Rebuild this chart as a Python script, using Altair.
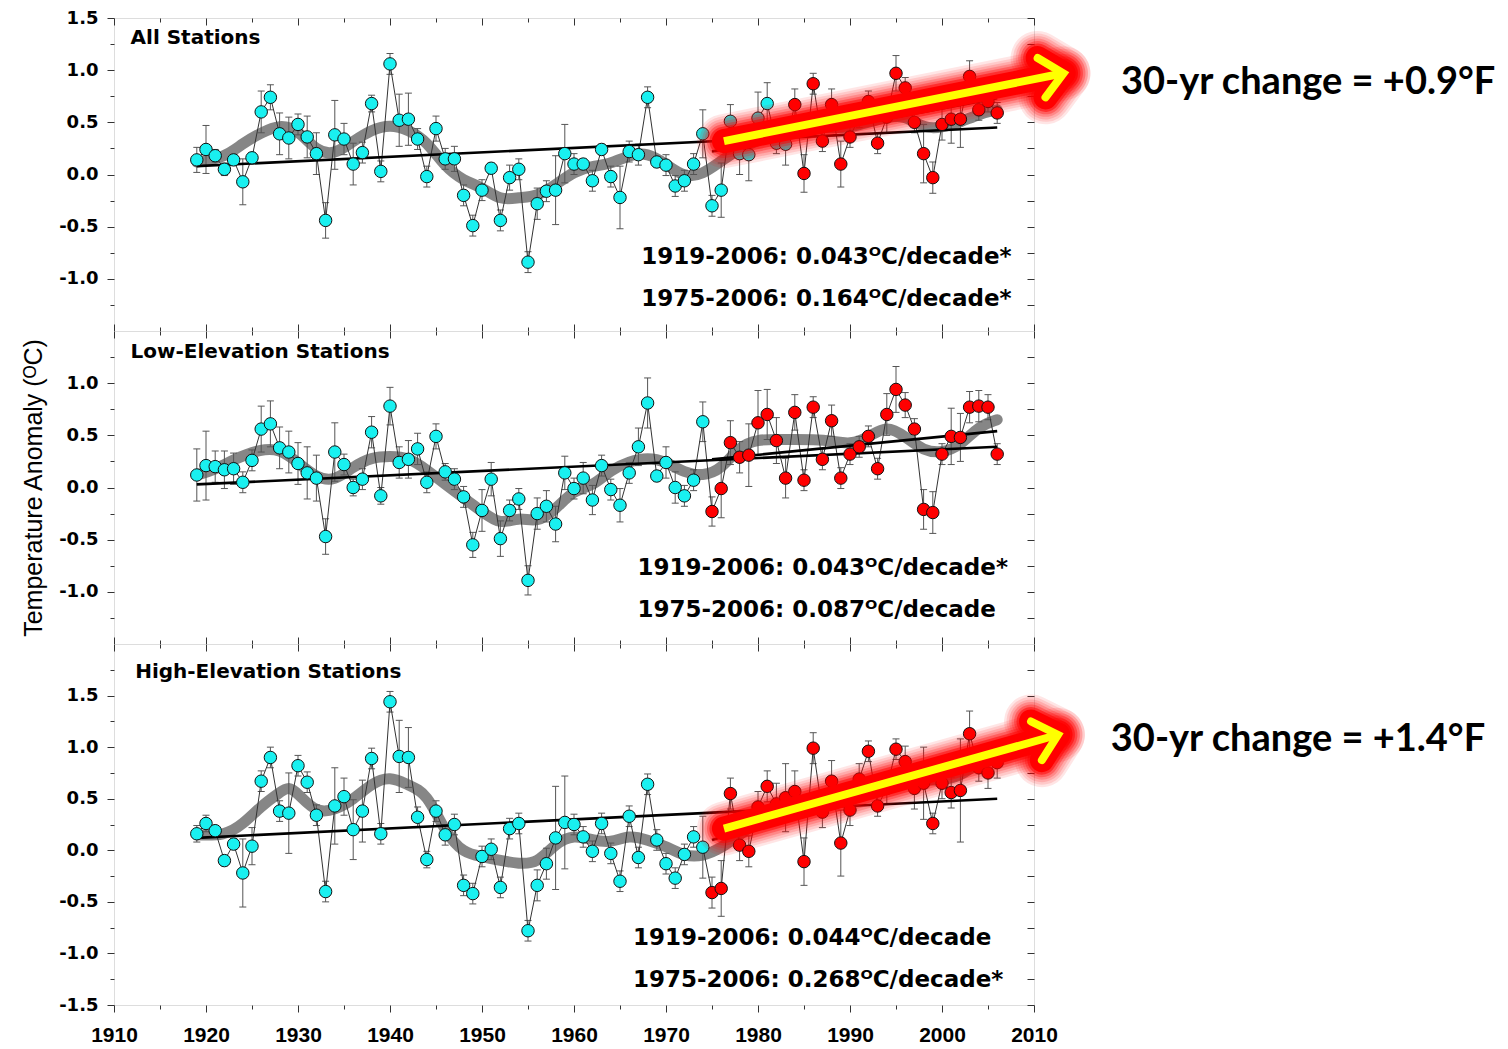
import math
import altair as alt
import pandas as pd

# ---------------- data ----------------
YEARS = list(range(1919, 2007))
X_MAJOR = list(range(1910, 2011, 10))
X_MINOR = list(range(1915, 2010, 10))

ALL_VALS = [0.14, 0.24, 0.18, 0.05, 0.14, -0.07, 0.16, 0.60, 0.74, 0.39,
            0.35, 0.48, 0.36, 0.20, -0.44, 0.38, 0.34, 0.10, 0.21, 0.68,
            0.03, 1.06, 0.52, 0.53, 0.34, -0.02, 0.44, 0.15, 0.15, -0.20,
            -0.49, -0.15, 0.06, -0.44, -0.03, 0.05, -0.84, -0.28, -0.16, -0.15,
            0.20, 0.10, 0.10, -0.06, 0.24, -0.02, -0.22, 0.22, 0.19, 0.74,
            0.12, 0.09, -0.11, -0.06, 0.10, 0.39, -0.30, -0.15, 0.51, 0.20,
            0.19, 0.54, 0.68, 0.30, 0.29, 0.67, 0.01, 0.87, 0.32, 0.67,
            0.10, 0.36, 0.55, 0.70, 0.30, 0.55, 0.97, 0.83, 0.50, 0.20,
            -0.03, 0.48, 0.53, 0.53, 0.94, 0.62, 0.70, 0.59]
ALL_ERR = [.12, .23, .06, .06, .05, .22, .05, .20, .12, .20,
           .20, .10, .20, .20, .17, .33, .15, .20, .10, .08,
           .10, .10, .25, .25, .10, .10, .12, .10, .12, .10,
           .10, .10, .05, .10, .12, .10, .10, .15, .10, .33,
           .28, .10, .05, .10, .05, .10, .30, .10, .10, .10,
           .05, .10, .10, .10, .10, .23, .10, .26, .16, .20,
           .25, .25, .20, .10, .20, .15, .18, .10, .10, .15,
           .22, .10, .10, .10, .10, .15, .17, .10, .10, .28,
           .15, .15, .23, .27, .15, .10, .10, .10]

LOW_VALS = [0.12, 0.21, 0.20, 0.17, 0.18, 0.05, 0.26, 0.56, 0.61, 0.38,
            0.34, 0.23, 0.14, 0.09, -0.47, 0.34, 0.22, 0.00, 0.08, 0.53,
            -0.08, 0.78, 0.24, 0.27, 0.37, 0.05, 0.49, 0.15, 0.08, -0.09,
            -0.55, -0.22, 0.08, -0.49, -0.22, -0.11, -0.89, -0.25, -0.18, -0.35,
            0.14, -0.01, 0.09, -0.12, 0.21, -0.02, -0.17, 0.14, 0.39, 0.81,
            0.11, 0.24, 0.00, -0.08, 0.07, 0.63, -0.23, -0.01, 0.43, 0.29,
            0.31, 0.62, 0.70, 0.45, 0.09, 0.72, 0.07, 0.77, 0.27, 0.64,
            0.09, 0.32, 0.39, 0.49, 0.18, 0.70, 0.94, 0.79, 0.56, -0.21,
            -0.24, 0.32, 0.49, 0.48, 0.77, 0.78, 0.77, 0.32]
LOW_ERR = [.25, .33, .15, .18, .15, .10, .10, .22, .22, .20,
           .20, .20, .25, .22, .17, .28, .10, .08, .10, .15,
           .08, .18, .15, .18, .15, .10, .12, .08, .10, .10,
           .12, .20, .16, .17, .10, .10, .14, .15, .15, .17,
           .16, .10, .15, .14, .10, .10, .16, .10, .18, .24,
           .05, .15, .15, .10, .10, .19, .14, .28, .21, .15,
           .30, .31, .24, .22, .19, .17, .10, .10, .10, .15,
           .10, .10, .10, .10, .10, .20, .22, .12, .10, .19,
           .20, .10, .27, .23, .15, .15, .12, .10]

HIGH_VALS = [0.16, 0.26, 0.19, -0.10, 0.06, -0.22, 0.04, 0.67, 0.90, 0.38,
             0.36, 0.82, 0.66, 0.34, -0.40, 0.43, 0.52, 0.20, 0.38, 0.89,
             0.16, 1.44, 0.91, 0.90, 0.32, -0.09, 0.38, 0.15, 0.25, -0.34,
             -0.42, -0.06, 0.01, -0.36, 0.21, 0.26, -0.78, -0.34, -0.13, 0.12,
             0.27, 0.25, 0.13, -0.01, 0.26, -0.03, -0.30, 0.33, -0.07, 0.64,
             0.10, -0.13, -0.27, -0.04, 0.13, 0.03, -0.41, -0.37, 0.55, 0.05,
             -0.01, 0.42, 0.62, 0.45, 0.51, 0.57, -0.11, 0.99, 0.37, 0.67,
             0.07, 0.39, 0.69, 0.96, 0.43, 0.60, 0.98, 0.86, 0.60, 0.65,
             0.26, 0.65, 0.56, 0.58, 1.13, 0.80, 0.75, 0.85]
HIGH_ERR = [.08, .08, .05, .05, .05, .33, .18, .10, .10, .10,
            .39, .10, .10, .10, .10, .37, .18, .29, .30, .10,
            .10, .10, .35, .29, .10, .08, .10, .10, .10, .10,
            .10, .10, .10, .10, .10, .10, .10, .15, .15, .50,
            .45, .10, .10, .10, .10, .10, .10, .10, .10, .10,
            .10, .10, .10, .10, .10, .30, .15, .27, .15, .15,
            .15, .15, .15, .20, .33, .20, .23, .15, .15, .20,
            .32, .15, .15, .10, .10, .15, .10, .15, .20, .35,
            .10, .15, .15, .50, .22, .13, .15, .15]

# smoothed curves
ALL_SM_X = [1919, 1922, 1924, 1926, 1928, 1930, 1932, 1934, 1936, 1938, 1940, 1942, 1944,
            1946, 1948, 1950, 1952, 1954, 1956, 1958, 1960, 1962, 1964, 1966, 1968, 1970,
            1972, 1974, 1976, 1978, 1980, 1982, 1984, 1986, 1988, 1990, 1992, 1994, 1996,
            1998, 2000, 2002, 2004, 2006]
ALL_SM_Y = [0.12, 0.16, 0.30, 0.40, 0.48, 0.43, 0.22, 0.19, 0.32, 0.43, 0.48, 0.43, 0.32,
            0.07, -0.06, -0.12, -0.25, -0.22, -0.21, -0.10, 0.03, 0.08, 0.10, 0.19, 0.21, 0.10,
            -0.03, 0.00, 0.13, 0.25, 0.33, 0.38, 0.42, 0.45, 0.45, 0.45, 0.50, 0.55, 0.57,
            0.44, 0.45, 0.50, 0.58, 0.62]
LOW_SM_X = [1919, 1921, 1923, 1926, 1928, 1930, 1932, 1934, 1936, 1938, 1940, 1942, 1944,
            1946, 1948, 1950, 1952, 1954, 1956, 1958, 1960, 1962, 1964, 1966, 1968, 1970,
            1972, 1974, 1976, 1978, 1980, 1982, 1984, 1986, 1988, 1990, 1992, 1994, 1996,
            1998, 2000, 2002, 2004, 2006]
LOW_SM_Y = [0.12, 0.17, 0.27, 0.37, 0.37, 0.24, 0.09, 0.06, 0.20, 0.29, 0.30, 0.29, 0.17,
            0.03, -0.10, -0.23, -0.36, -0.28, -0.34, -0.21, -0.02, 0.01, 0.17, 0.25, 0.29, 0.25,
            0.14, 0.11, 0.17, 0.40, 0.46, 0.46, 0.46, 0.46, 0.45, 0.41, 0.48, 0.60, 0.49,
            0.35, 0.33, 0.40, 0.59, 0.65]
HIGH_SM_X = [1919, 1922, 1924, 1926, 1928, 1929, 1930, 1932, 1934, 1936, 1938, 1940, 1942,
             1944, 1946, 1948, 1950, 1952, 1954, 1956, 1958, 1960, 1962, 1964, 1966, 1968,
             1970, 1972, 1974, 1976, 1978, 1980, 1982, 1984, 1986, 1988, 1990, 1992, 1994,
             1996, 1998, 2000, 2002, 2004]
HIGH_SM_Y = [0.15, 0.14, 0.25, 0.43, 0.56, 0.62, 0.55, 0.36, 0.39, 0.49, 0.65, 0.72, 0.63,
             0.56, 0.17, -0.03, -0.06, -0.10, -0.13, -0.13, 0.07, 0.15, 0.10, 0.07, 0.15, 0.10,
             0.04, -0.06, -0.06, 0.02, 0.15, 0.28, 0.40, 0.45, 0.50, 0.52, 0.55, 0.60, 0.65,
             0.70, 0.68, 0.68, 0.72, 0.85]

# linear trends: 1919-2006 and 1975-2006
TREND_YEARS = [1919, 2006, 1975, 2006]
TREND_SEG = ["long", "long", "recent", "recent"]
ALL_TREND = [0.08, 0.45, 0.22, 0.73]
LOW_TREND = [0.03, 0.39, 0.27, 0.54]
HIGH_TREND = [0.12, 0.50, 0.10, 0.93]

FIRST_RED = [1984, 1975, 1975]
PANEL_TITLES = ["All Stations", "Low-Elevation Stations", "High-Elevation Stations"]
STATS = [["1919-2006: 0.043\u1d3cC/decade*", "1975-2006: 0.164\u1d3cC/decade*"],
         ["1919-2006: 0.043\u1d3cC/decade*", "1975-2006: 0.087\u1d3cC/decade"],
         ["1919-2006: 0.044\u1d3cC/decade", "1975-2006: 0.268\u1d3cC/decade*"]]
NOTES = ["30-yr change = +0.9\u00b0F", None, "30-yr change = +1.4\u00b0F"]
Y_TITLE = "Temperature Anomaly (\u1d3cC)"

# annotation anchors, in data units (year, anomaly)
TITLE_POS = [(1911.8, 1.31), (1911.8, 1.30), (1912.3, 1.73)]
STATS_POS = [(1967.3, -0.79, -1.19), (1966.9, -0.77, -1.17), (1966.4, -0.85, -1.26)]
ARROWS = [((1976.3, 0.32), (2013.2, 0.97)), None, ((1976.3, 0.21), (2012.6, 1.12))]
NOTE_POS = [(2019.45, 0.876), None, (2018.35, 1.07)]

# ---------------- layout ----------------
W = 920
HEIGHTS = [313, 313, 361]
DOMAINS = [[-1.5, 1.5], [-1.5, 1.5], [-1.5, 2.0]]
Y_MAJOR = [[-1.0, -0.5, 0.0, 0.5, 1.0, 1.5], [-1.0, -0.5, 0.0, 0.5, 1.0],
           [-1.5, -1.0, -0.5, 0.0, 0.5, 1.0, 1.5]]
Y_MINOR = [[-1.25, -0.75, -0.25, 0.25, 0.75, 1.25], [-1.25, -0.75, -0.25, 0.25, 0.75, 1.25],
           [-1.25, -0.75, -0.25, 0.25, 0.75, 1.25, 1.75]]
LABEL_EXPR = "(datum.value < 0 ? '-' : '') + format(abs(datum.value), '.1f')"
TICK_COLOR = "#333333"
ARM_PX = 30
HALF_ANGLE = 42


def arrow_frame(start, tip, ppx, ppy):
    """Shaft and chevron head of an annotation arrow, in data units."""
    (ax0, ay0), (bx0, by0) = start, tip
    dxp, dyp = (bx0 - ax0) * ppx, (by0 - ay0) * ppy
    length = math.hypot(dxp, dyp)
    ux, uy = -dxp / length, -dyp / length
    ends = []
    for sgn in (1, -1):
        phi = math.radians(HALF_ANGLE * sgn)
        rx = ux * math.cos(phi) - uy * math.sin(phi)
        ry = ux * math.sin(phi) + uy * math.cos(phi)
        ends.append((bx0 + ARM_PX * rx / ppx, by0 + ARM_PX * ry / ppy))
    shaft = pd.DataFrame({"year": [ax0, bx0], "val": [ay0, by0], "o": [0, 1], "seg": ["s", "s"]})
    head = pd.DataFrame({"year": [ends[0][0], bx0, ends[1][0]],
                         "val": [ends[0][1], by0, ends[1][1]],
                         "o": [0, 1, 2], "seg": ["h", "h", "h"]})
    return shaft, head


def panel(idx, vals, errs, sm_x, sm_y, trend):
    h = HEIGHTS[idx]
    dom = DOMAINS[idx]
    last = idx == 2
    xsc = alt.Scale(domain=[1910, 2010], nice=False, zero=False)
    ysc = alt.Scale(domain=dom, nice=False, zero=False)

    def X(field="year", axis=None):
        return alt.X(f"{field}:Q", scale=xsc, axis=axis)

    def Y(field="val", axis=None):
        return alt.Y(f"{field}:Q", scale=ysc, axis=axis)

    tick_only = dict(domain=False, grid=False, labels=False, title=None,
                     tickColor=TICK_COLOR, tickWidth=1)
    ax_top_major = alt.Axis(orient="bottom", offset=-h, values=X_MAJOR, tickSize=7, **tick_only)
    ax_top_minor = alt.Axis(orient="bottom", offset=-h, values=X_MINOR, tickSize=4, **tick_only)
    if last:
        ax_bot_major = alt.Axis(orient="bottom", values=X_MAJOR, tickSize=7, domain=False,
                                grid=False, title=None, tickColor=TICK_COLOR, format="d",
                                labelFont="Liberation Sans Narrow, Liberation Sans",
                                labelFontSize=21, labelFontWeight="bold", labelColor="black",
                                labelPadding=12, labelFlush=False, labelOverlap=False)
        ax_bot_minor = alt.Axis(orient="bottom", values=X_MINOR, tickSize=4, **tick_only)
    else:
        ax_bot_major = alt.Axis(orient="top", offset=-h, values=X_MAJOR, tickSize=7, **tick_only)
        ax_bot_minor = alt.Axis(orient="top", offset=-h, values=X_MINOR, tickSize=4, **tick_only)

    left_kw = dict(orient="left", values=Y_MAJOR[idx], tickSize=7, domain=False, grid=False,
                   labelExpr=LABEL_EXPR, labelFont="DejaVu Sans", labelFontSize=18,
                   labelFontWeight="bold", labelColor="black", labelPadding=9,
                   labelFlush=False, labelOverlap=False, tickColor=TICK_COLOR)
    if idx == 1:
        left_kw.update(title=Y_TITLE, titleFont="Liberation Sans Narrow, Liberation Sans",
                       titleFontSize=25, titleFontWeight="normal", titleColor="black",
                       titlePadding=12)
    else:
        left_kw.update(title=None)
    ax_left = alt.Axis(**left_kw)
    ax_left_minor = alt.Axis(orient="left", values=Y_MINOR[idx], tickSize=4, **tick_only)
    ax_right = alt.Axis(orient="left", offset=-W, values=sorted(Y_MAJOR[idx] + Y_MINOR[idx]),
                        tickSize=7, **tick_only)

    df = pd.DataFrame({"year": YEARS, "val": vals, "err": errs})
    df["lo"] = df["val"] - df["err"]
    df["hi"] = df["val"] + df["err"]
    df["grp"] = ["late" if y >= FIRST_RED[idx] else "early" for y in YEARS]

    sm = pd.DataFrame({"year": sm_x, "val": sm_y})
    tr = pd.DataFrame({"year": TREND_YEARS, "val": trend, "seg": TREND_SEG})

    layers = []
    layers.append(alt.Chart(sm).mark_line(color="#7f7f7f", strokeWidth=11, interpolate="basis",
                                          strokeCap="round", opacity=0.95)
                  .encode(x=X(axis=ax_top_major), y=Y(axis=ax_left)))
    layers.append(alt.Chart(df).mark_rule(color="#555555", strokeWidth=1)
                  .encode(x=X(axis=ax_top_minor), y=Y("lo", axis=ax_left_minor), y2="hi:Q"))
    layers.append(alt.Chart(df).mark_tick(orient="horizontal", size=7, thickness=1,
                                          color="#555555", opacity=1)
                  .encode(x=X(axis=ax_bot_major), y=Y("hi", axis=ax_right)))
    layers.append(alt.Chart(df).mark_tick(orient="horizontal", size=7, thickness=1,
                                          color="#555555", opacity=1)
                  .encode(x=X(axis=ax_bot_minor), y=Y("lo")))
    layers.append(alt.Chart(df).mark_line(color="#333333", strokeWidth=1)
                  .encode(x=X(), y=Y()))
    layers.append(alt.Chart(tr).mark_line(color="black", strokeWidth=2.6)
                  .encode(x=X(), y=Y(), detail="seg:N"))
    layers.append(alt.Chart(df).mark_circle(size=155, stroke="#111111", strokeWidth=1, opacity=1)
                  .encode(x=X(), y=Y(),
                          fill=alt.Fill("grp:N", legend=None,
                                        scale=alt.Scale(domain=["early", "late"],
                                                        range=["#19F0F0", "#FF0000"]))))

    # panel title
    tx, ty = TITLE_POS[idx]
    layers.append(alt.Chart(pd.DataFrame({"year": [tx], "val": [ty], "t": [PANEL_TITLES[idx]]}))
                  .mark_text(align="left", baseline="middle", font="DejaVu Sans", fontSize=20,
                             fontWeight="bold", color="black", clip=False)
                  .encode(x=X(), y=Y(), text="t:N"))
    # trend statistics
    sx, sy1, sy2 = STATS_POS[idx]
    layers.append(alt.Chart(pd.DataFrame({"year": [sx, sx], "val": [sy1, sy2], "t": STATS[idx]}))
                  .mark_text(align="left", baseline="middle", font="DejaVu Sans", fontSize=23,
                             fontWeight="bold", color="black", clip=False)
                  .encode(x=X(), y=Y(), text="t:N"))

    # highlighted 30-year arrow (soft red glow, yellow core)
    if ARROWS[idx] is not None:
        shaft, head = arrow_frame(ARROWS[idx][0], ARROWS[idx][1], W / 100.0, h / (dom[1] - dom[0]))
        both = pd.concat([shaft, head], ignore_index=True)
        for wdt, op in [(54, 0.10), (49, 0.12), (44, 0.15), (39, 0.2), (34, 0.3), (29, 0.5),
                        (24, 1.0)]:
            layers.append(alt.Chart(both).mark_trail(color="#FF0000", opacity=op, clip=False)
                          .encode(x=X(), y=Y(), order="o:Q", detail="seg:N",
                                  size=alt.value(wdt)))
        layers.append(alt.Chart(shaft).mark_line(color="#FFFF00", strokeWidth=8, strokeCap="butt",
                                                 clip=False)
                      .encode(x=X(), y=Y(), order="o:Q"))
        layers.append(alt.Chart(head).mark_line(color="#FFFF00", strokeWidth=8, strokeCap="round",
                                                strokeJoin="miter", clip=False)
                      .encode(x=X(), y=Y(), order="o:Q"))
    if NOTES[idx] is not None:
        nx, ny = NOTE_POS[idx]
        layers.append(alt.Chart(pd.DataFrame({"year": [nx], "val": [ny], "t": [NOTES[idx]]}))
                      .mark_text(align="left", baseline="middle", font="Lato", fontSize=38,
                                 fontWeight="bold", color="black", clip=False)
                      .encode(x=X(), y=Y(), text="t:N"))

    return (alt.layer(*layers)
            .resolve_axis(x="independent", y="independent")
            .properties(width=W, height=h))


p1 = panel(0, ALL_VALS, ALL_ERR, ALL_SM_X, ALL_SM_Y, ALL_TREND)
p2 = panel(1, LOW_VALS, LOW_ERR, LOW_SM_X, LOW_SM_Y, LOW_TREND)
p3 = panel(2, HIGH_VALS, HIGH_ERR, HIGH_SM_X, HIGH_SM_Y, HIGH_TREND)

chart = (alt.vconcat(p1, p2, p3, spacing=0, bounds="flush",
                     padding={"left": 13, "top": 0, "right": 0, "bottom": 0})
         .configure_view(stroke="#333333", strokeWidth=1.3)
         .configure(background="white"))

chart.save("out.html", embed_options={"renderer": "svg", "actions": False})
